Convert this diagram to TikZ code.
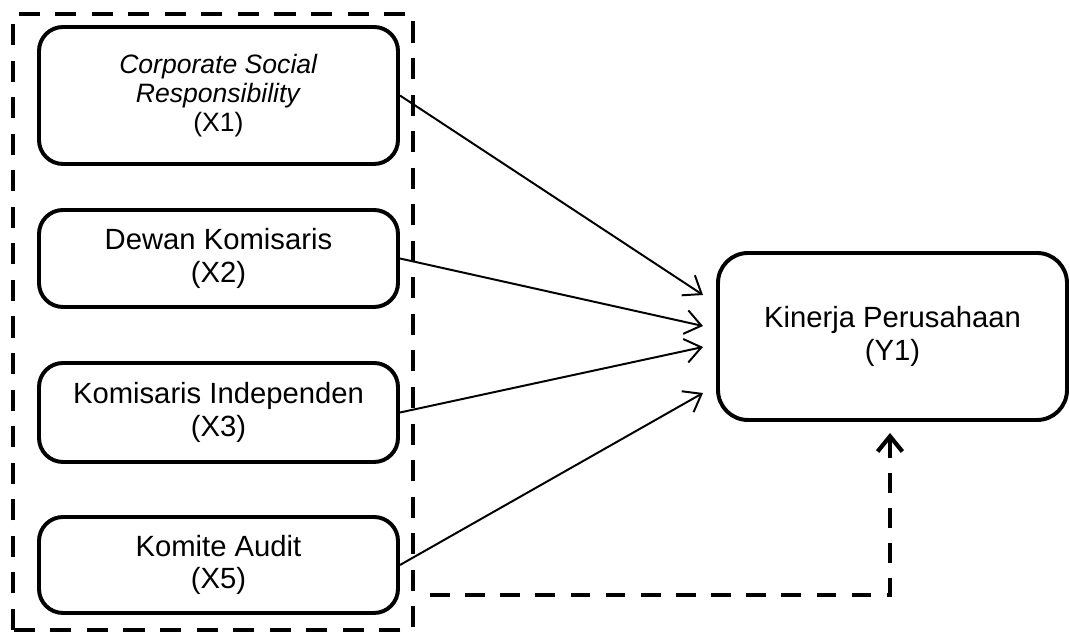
\documentclass[tikz,border=0pt]{standalone}
\usepackage{fontspec}
\setmainfont{Liberation Sans}
\usepackage{tikz}
\usetikzlibrary{arrows.meta}

\begin{document}
\begin{tikzpicture}[
  varbox/.style={draw, line width=2.8pt, rounded corners=0.6cm, align=center, minimum width=8.975cm, inner sep=0pt, font=\fontsize{20.8pt}{22.9pt}\selectfont},
  link/.style={-{Straight Barb[length=0.4cm,width=0.6cm]}, line width=1.4pt},
  dasharrow/.style={-{Straight Barb[length=0.38cm,width=0.62cm]}, line width=3pt, line join=miter, dash pattern=on 14pt off 11pt},
  groupframe/.style={line width=2.8pt, dash pattern=on 15pt off 11pt}
]
\useasboundingbox (0,0) rectangle (26.75,15.825);

% independent variables
\draw[groupframe] (0.33,0.075) rectangle (10.33,15.475);
\node[varbox, minimum height=3.425cm, font=\fontsize{18.9pt}{20.8pt}\selectfont] (x1) at (5.4625,13.4375) {\textit{Corporate Social}\\\textit{Responsibility}\\(X1)};
\node[varbox, minimum height=2.425cm] (x2) at (5.4625,9.3625) {Dewan Komisaris\\(X2)};
\node[varbox, minimum height=2.475cm] (x3) at (5.4625,5.5125) {Komisaris Independen\\(X3)};
\node[varbox, minimum height=2.4cm] (x5) at (5.4625,1.7) {Komite Audit\\(X5)};

% dependent variable
\node[varbox, minimum width=8.725cm, minimum height=4.175cm, rounded corners=0.75cm] (y1) at (22.3125,7.4125) {Kinerja Perusahaan\\(Y1)};

\coordinate (t1) at (17.575,8.45);
\coordinate (t2) at (17.575,7.675);
\coordinate (t3) at (17.575,7.15);
\coordinate (t4) at (17.575,6.0);
\draw[link] (x1.east) -- (t1);
\draw[link] (x2.east) -- (t2);
\draw[link] (x3.east) -- (t3);
\draw[link] (x5.east) -- (t4);

% simultaneous effect
\coordinate (d0) at (10.75,0.95);
\coordinate (d1) at (22.25,5.0);
\draw[dasharrow] (d0) -| (d1);
\end{tikzpicture}
\end{document}
